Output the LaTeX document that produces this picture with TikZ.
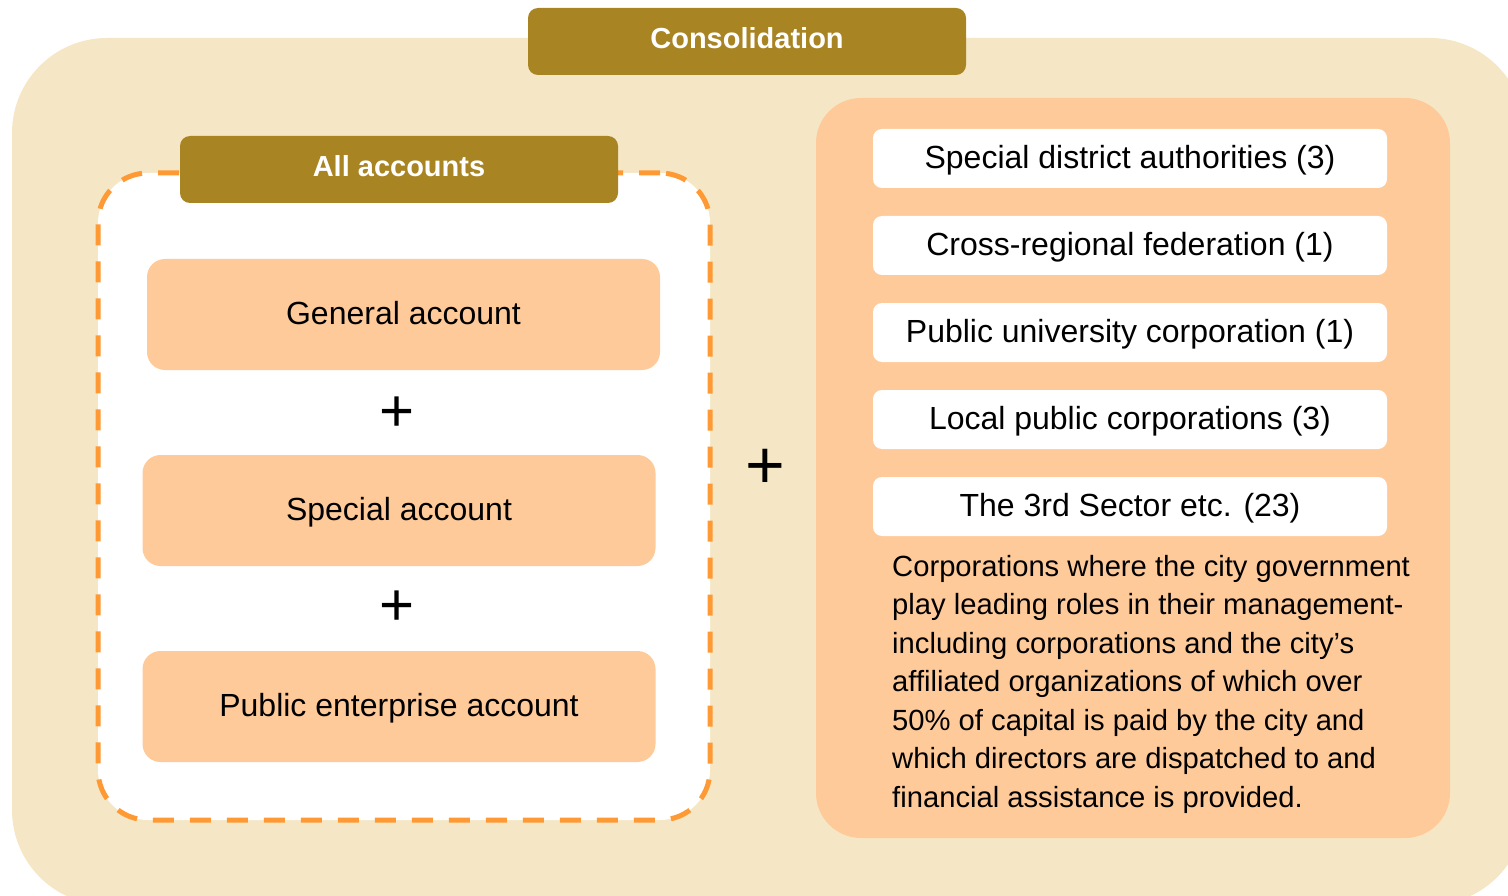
\documentclass[tikz,border=0pt]{standalone}
\usepackage{fontspec}
\setmainfont{Liberation Sans}
\definecolor{bgbeige}{HTML}{F5E7C5}
\definecolor{gold}{HTML}{A98423}
\definecolor{peach}{HTML}{FFCA99}
\definecolor{dashorange}{HTML}{FF9933}
\begin{document}
\begin{tikzpicture}[x=1pt,y=-1pt,
  header/.style={fill=gold, rounded corners=10pt, minimum width=438pt, minimum height=67pt,
    text=white, font=\fontsize{29}{33}\selectfont\bfseries, inner sep=0pt, text height=25pt, text depth=10pt},
  acctbox/.style={fill=peach, rounded corners=18pt, minimum width=513pt, minimum height=111pt,
    font=\fontsize{32}{36}\selectfont, inner sep=0pt, text height=29pt, text depth=9pt},
  whitebox/.style={fill=white, rounded corners=9pt, minimum width=514pt, minimum height=59pt,
    font=\fontsize{32}{36}\selectfont, inner sep=0pt, text height=29pt, text depth=9pt},
  dashframe/.style={fill=white, draw=dashorange, line width=5pt, dash pattern=on 21pt off 16pt,
    rounded corners=50pt, minimum width=612pt, minimum height=647pt, inner sep=0pt},
  panel/.style={fill=peach, rounded corners=45pt, minimum width=634pt, minimum height=740pt, inner sep=0pt},
  plussign/.style={inner sep=0pt, font=\fontsize{#1}{#1}\selectfont},
  para/.style={anchor=north west, inner sep=0pt, align=left, font=\fontsize{29.2}{38.5}\selectfont}
]
\useasboundingbox (0,0) rectangle (1508,896);
\begin{scope}
  \clip (0,0) rectangle (1508,896);
  \fill[bgbeige, rounded corners=95pt] (12,38) rectangle (1525,905);
\end{scope}

\node[header] (consol) at (747,41.5) {Consolidation};

\node[dashframe] (frame) at (404,496.5) {};
\node[header] (allacc) at (399,169.5) {All accounts};

\node[acctbox] (general) at (403.5,314.5) {General account};
\node[plussign=60] (plusA) at (397,414) {+};
\node[acctbox] (special) at (399,510.5) {Special account};
\node[plussign=60] (plusB) at (397,608) {+};
\node[acctbox] (public) at (399,706.5) {Public enterprise account};

\node[plussign=68] (plusC) at (765,469) {+};

\node[panel] (panel) at (1133,468) {};
\node[whitebox] (w1) at (1130,158.5) {Special district authorities (3)};
\node[whitebox] (w2) at (1130,245.5) {Cross-regional federation (1)};
\node[whitebox] (w3) at (1130,332.5) {Public university corporation (1)};
\node[whitebox] (w4) at (1130,419.5) {Local public corporations (3)};
\node[whitebox] (w5) at (1130,506.5) {The 3rd Sector etc. (23)};

\node[para] (desc) at (892,555) {Corporations where the city government\\
play leading roles in their management-\\
including corporations and the city’s\\
affiliated organizations of which over\\
50\% of capital is paid by the city and\\
which directors are dispatched to and\\
financial assistance is provided.};
\end{tikzpicture}
\end{document}
